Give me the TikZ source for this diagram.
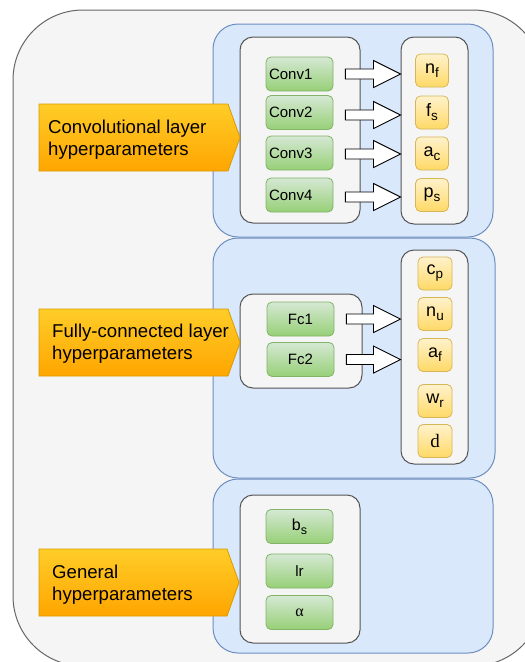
\documentclass[tikz,border=0pt]{standalone}
\usepackage{fontspec}
\setmainfont{Liberation Sans}
\newfontfamily\seriffam{Liberation Serif}
\usetikzlibrary{calc}

\definecolor{bgfill}{HTML}{F5F5F5}
\definecolor{bgline}{HTML}{666666}
\definecolor{boxline}{HTML}{555555}
\definecolor{panelfill}{HTML}{DAE8FC}
\definecolor{panelline}{HTML}{6C8EBF}
\definecolor{greentop}{HTML}{D5E8D4}
\definecolor{greenbot}{HTML}{97D077}
\definecolor{greenline}{HTML}{82B366}
\definecolor{yeltop}{HTML}{FFF2CC}
\definecolor{yelbot}{HTML}{FFD966}
\definecolor{yelline}{HTML}{D6B656}
\definecolor{orgtop}{HTML}{FFCD28}
\definecolor{orgbot}{HTML}{FFA500}
\definecolor{orgline}{HTML}{D79B00}

% lowered index text, optional size in pt
\newcommand\lowidx[2][13.5]{\raisebox{-0.22em}{\fontsize{#1}{#1}\selectfont #2}}

\tikzset{
  outerbox/.style={draw=bgline, fill=bgfill, line width=1pt, rounded corners=70pt, inner sep=0pt},
  panel/.style={draw=panelline, fill=panelfill, line width=1pt, rounded corners=25pt, inner sep=0pt},
  holder/.style={draw=boxline, fill=bgfill, line width=1pt, rounded corners=13pt, inner sep=0pt},
  layerbox/.style={draw=greenline, top color=greentop, bottom color=greenbot, line width=0.8pt,
    rounded corners=5pt, minimum width=67pt, minimum height=34pt, inner sep=0pt,
    font=\fontsize{15}{18}\selectfont},
  convbox/.style={layerbox, text width=61pt, align=left, inner xsep=3pt},
  parbox/.style={draw=yelline, top color=yeltop, bottom color=yelbot, line width=0.8pt,
    rounded corners=5pt, minimum width=33pt, minimum height=33pt, inner sep=0pt,
    font=\fontsize{18}{20}\selectfont},
  labeltag/.style={draw=orgline, top color=orgtop, bottom color=orgbot, line width=0.8pt},
  tagtext/.style={anchor=west, align=left, inner sep=0pt, font=\fontsize{18.6}{22}\selectfont},
  blockarr/.style={draw=black, fill=white, line width=0.9pt, line join=miter},
}

% hollow block arrow from a layer box (#1) to a parameter column (#2),
% #3 shifts it vertically from the centre of #1
\newcommand\blockarrow[3]{%
  \path let \p1=($(#1.east)+(12,#3)$), \p2=(#2.west) in
    [blockarr] (\x1,\y1+5pt) -- (\x2-27pt,\y1+5pt) -- (\x2-27pt,\y1+13.5pt) -- (\x2,\y1)
      -- (\x2-27pt,\y1-13.5pt) -- (\x2-27pt,\y1-5pt) -- (\x1,\y1-5pt) -- cycle;
}

\begin{document}
\begin{tikzpicture}[x=1pt,y=-1pt]
\useasboundingbox (0,0) rectangle (525,662);
\clip (0,0) rectangle (525,662);

% background container
\node[outerbox, minimum width=530pt, minimum height=656pt] (frame) at (278,338) {};

% three blue groups
\node[panel, minimum width=280pt, minimum height=213pt] (convgroup) at (353,130.5) {};
\node[panel, minimum width=282pt, minimum height=240pt] (fcgroup) at (354,358) {};
\node[panel, minimum width=280pt, minimum height=174pt] (gengroup) at (353,566) {};

% layer and parameter holders
\node[holder, minimum width=120pt, minimum height=186pt] (convlayers) at (300,130) {};
\node[holder, minimum width=67pt, minimum height=187pt] (convparams) at (434.5,130.5) {};
\node[holder, minimum width=122pt, minimum height=94pt] (fclayers) at (301,341) {};
\node[holder, minimum width=67pt, minimum height=214pt] (fcparams) at (434.5,357) {};
\node[holder, minimum width=120pt, minimum height=148pt] (genparams) at (300,569) {};

% convolutional layers
\node[convbox] (conv1) at (299.5,74) {Conv1};
\node[convbox] (conv2) at (299.5,112.5) {Conv2};
\node[convbox] (conv3) at (299.5,153) {Conv3};
\node[convbox] (conv4) at (299.5,195) {Conv4};

% convolutional hyperparameters
\node[parbox] (nf) at (432,70.5) {n\lowidx{f}};
\node[parbox] (fs) at (432,112.5) {f\lowidx{s}};
\node[parbox] (ac) at (432,153.5) {a\lowidx{c}};
\node[parbox] (ps) at (432,195) {p\lowidx{s}};

% fully-connected layers
\node[layerbox] (fc1) at (300.5,319) {Fc1};
\node[layerbox] (fc2) at (300.5,359.5) {Fc2};

% fully-connected hyperparameters
\node[parbox, minimum width=34pt] (cp) at (435,273.5) {c\lowidx{p}};
\node[parbox, minimum width=34pt] (nu) at (435,314) {n\lowidx{u}};
\node[parbox, minimum width=34pt] (af) at (435,355) {a\lowidx{f}};
\node[parbox, minimum width=34pt] (wr) at (435,401) {w\lowidx{r}};
\node[parbox, minimum width=34pt, font=\seriffam\fontsize{19}{20}\selectfont] (dr) at (435,441) {d};

% general hyperparameters
\node[layerbox, font=\fontsize{16}{18}\selectfont] (bs) at (299.5,526.5) {b\lowidx[12.5]{s}};
\node[layerbox] (lr) at (299.5,571) {lr};
\node[layerbox, font=\seriffam\fontsize{16}{18}\selectfont] (alpha) at (299.5,612.5) {α};

% arrows from layers to their hyperparameters
\blockarrow{conv1}{convparams}{0}
\blockarrow{conv2}{convparams}{2.5}
\blockarrow{conv3}{convparams}{1}
\blockarrow{conv4}{convparams}{2}
\blockarrow{fc1}{fcparams}{0}
\blockarrow{fc2}{fcparams}{0}

% orange tags
\path[labeltag] (39,104) -- (228,104) -- (240,137.5) -- (228,171) -- (39,171) -- cycle;
\path[labeltag] (39,309) -- (228,309) -- (240,342.5) -- (228,376) -- (39,376) -- cycle;
\path[labeltag] (39,549) -- (227,549) -- (239,582.5) -- (227,616) -- (39,616) -- cycle;

\node[tagtext] (convtag) at (48,140) {Convolutional layer\\hyperparameters};
\node[tagtext] (fctag) at (52,344) {Fully-connected layer\\hyperparameters};
\node[tagtext] (gentag) at (52,585) {General\\hyperparameters};
\end{tikzpicture}
\end{document}
